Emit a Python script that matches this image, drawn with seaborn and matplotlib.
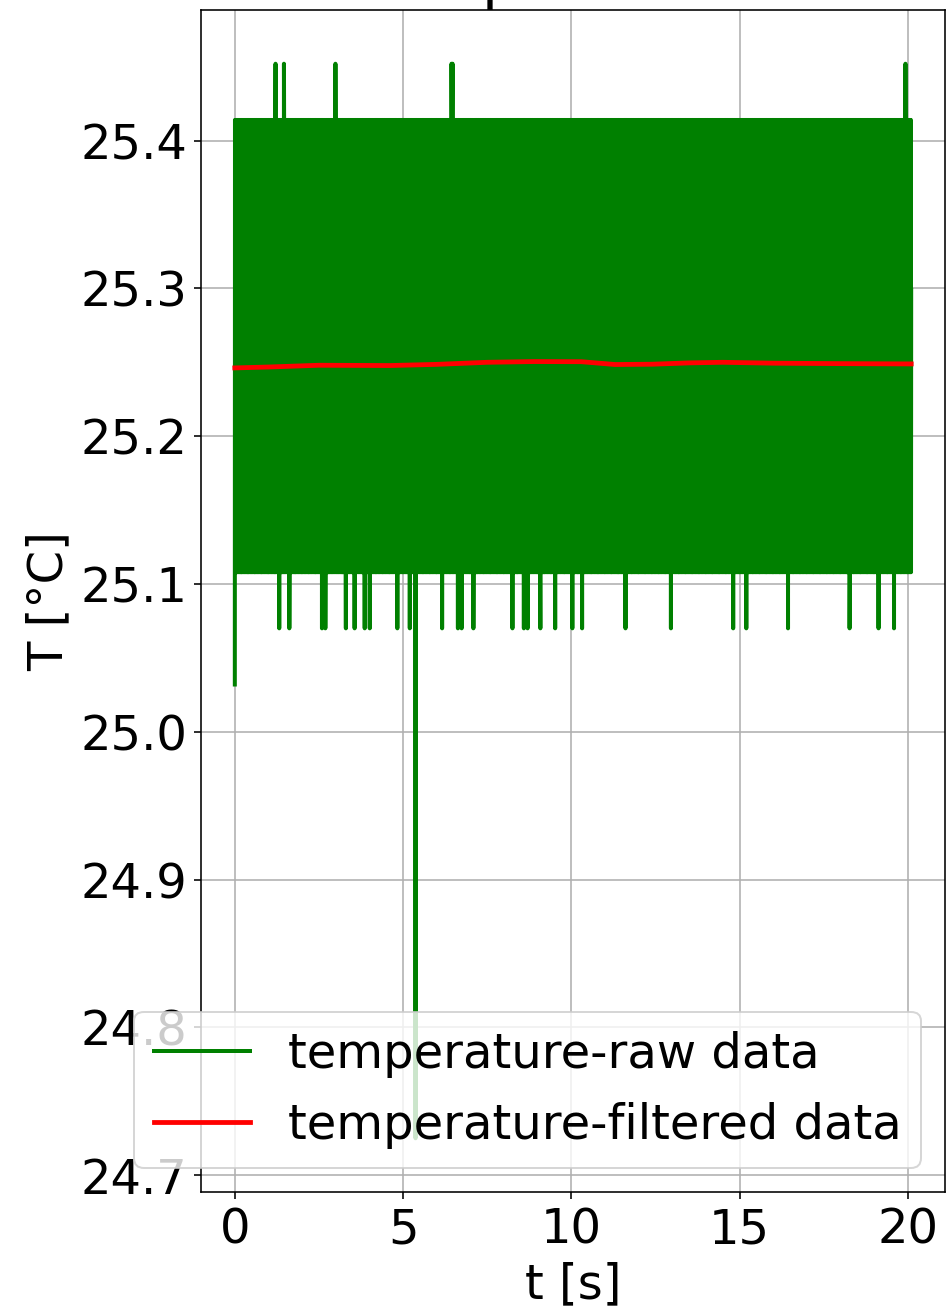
import numpy as np
import matplotlib
matplotlib.use("Agg")
import matplotlib.pyplot as plt
import seaborn as sns

# sample clock of the sensor record
sample_dt = 0.005
t_end = 20.1

# quantised sensor levels [°C]
levels = [25.070, 25.108, 25.146, 25.185, 25.223, 25.261,
          25.299, 25.338, 25.376, 25.414, 25.452]

# typical run of level indices, repeated over the record
raw_pattern = [1, 9, 2, 8, 5, 1, 9, 4, 6, 9, 1, 3, 7, 9, 2, 1, 8, 5, 9, 1,
               6, 2, 9, 4, 1, 8, 3, 9, 5, 1, 7, 9, 2, 6, 1, 9, 4, 8, 1, 9]

# single sample outliers
spike_up_t = [1.21, 1.46, 2.99, 6.44, 6.47, 19.93]
spike_down_t = [1.32, 1.62, 2.59, 2.69, 3.30, 3.56, 3.86, 4.01, 4.83, 5.20,
                6.16, 6.63, 6.74, 7.09, 8.25, 8.59, 8.70, 9.08, 9.52, 10.03,
                10.32, 11.61, 12.96, 14.81, 15.20, 16.44, 18.27, 19.13, 19.59]
first_value = 25.032
dropout_t = 5.37
dropout_value = 24.725

# filtered signal
filt_t = [0.0, 1.0, 2.5, 4.6, 6.0, 7.5, 8.9, 10.3, 11.3, 12.4, 13.5, 14.5, 16.0, 18.0, 20.1]
filt_v = [25.2462, 25.2468, 25.2480, 25.2478, 25.2486, 25.2500, 25.2505, 25.2504,
          25.2485, 25.2487, 25.2496, 25.2500, 25.2494, 25.2491, 25.2489]

# ---------------------------------------------------------------
# build raw record
n = int(round(t_end / sample_dt)) + 1
t_raw = np.arange(n) * sample_dt
raw = np.array(levels)[np.resize(raw_pattern, n)]
for ts in spike_up_t:
    raw[np.abs(t_raw - ts).argmin()] = levels[-1]
for ts in spike_down_t:
    raw[np.abs(t_raw - ts).argmin()] = levels[0]
raw[0] = first_value
raw[np.abs(t_raw - dropout_t).argmin()] = dropout_value

plt.rcParams['font.size'] = 24

fig = plt.figure(figsize=(946 / 144, 1315 / 144), dpi=144)
ax = fig.add_axes([201 / 946, 123 / 1315, 744 / 946, 1182 / 1315])

sns.lineplot(x=t_raw, y=raw, color='green', linewidth=2, estimator=None,
             label='temperature-raw data', ax=ax)
sns.lineplot(x=filt_t, y=filt_v, color='red', linewidth=2.4, estimator=None,
             label='temperature-filtered data', ax=ax)

ax.set_xlabel('t [s]')
ax.set_ylabel('T [°C]')
ax.set_title('Temperature', fontsize=28.8, x=0.466)
ax.grid(True)
ax.legend(loc='lower right', fontsize=24)

fig.savefig('out.png', dpi=144)
